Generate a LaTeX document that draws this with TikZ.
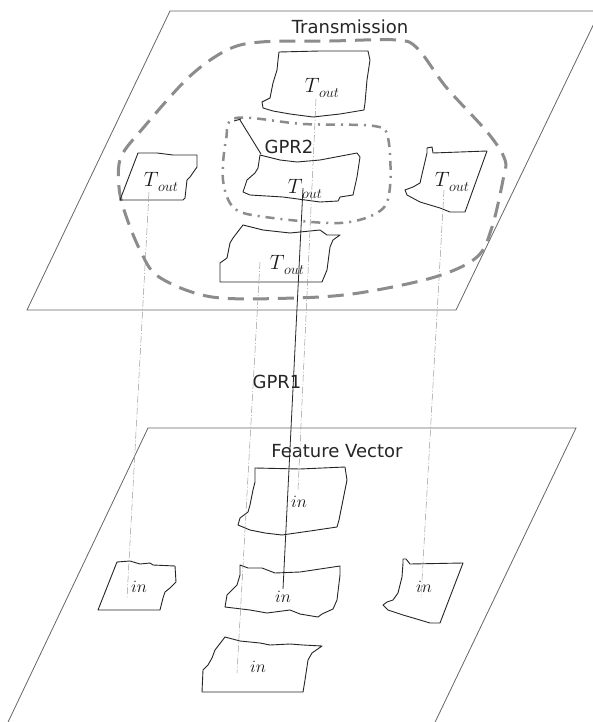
\documentclass[tikz,border=0pt]{standalone}
\usepackage{fontspec}
\setmainfont{DejaVu Sans}
\newcommand{\myTout}{{\fontsize{20}{20}\selectfont$T$\kern-0.5pt\raisebox{-4.5pt}{\fontsize{15}{15}\selectfont$out$}}}
\newcommand{\myIn}{{\fontsize{16}{16}\selectfont$in$}}
\begin{document}
\begin{tikzpicture}[x=1pt,y=-1pt,
  plane/.style={draw=black!60,line width=0.8pt},
  patch/.style={draw=black!85,line width=0.9pt,line join=round},
  outerloop/.style={draw=black!45,line width=3pt,dash pattern=on 16pt off 9pt},
  innerloop/.style={draw=black!45,line width=2.5pt,dash pattern=on 9pt off 6pt on 2pt off 6pt},
  proj/.style={draw=black!40,line width=0.5pt,dash pattern=on 7pt off 2pt on 1pt off 2pt},
  gprline/.style={draw=black!85,line width=0.8pt},
  title/.style={text=black!85,font=\fontsize{18}{18}\selectfont,inner sep=0pt},
  lab/.style={inner sep=0pt,text=black!90}]
\clip (0,0) rectangle (593,722);
\fill[white] (0,0) rectangle (593,722);

% planes
\draw[plane] (27,310) -- (170,11) -- (600,11) -- (456,310) -- cycle;
\draw[plane] (0,739) -- (148,428) -- (576,428) -- (427,739);

% outer dashed loop
\draw[outerloop] plot[smooth cycle,tension=0.55] coordinates {
 (261,42) (330,41) (397,40) (418,49) (446,87) (488,133) (505,160) (503,180)
 (492,227) (477,257) (435,277) (359,293) (295,298) (212,297) (159,277)
 (140,250) (125,213) (119,187) (121,157) (144,127) (189,77) (227,50)};

% inner dash-dot loop
\draw[innerloop] plot[smooth cycle,tension=0.55] coordinates {
 (236,118) (303,124) (374,126) (388,138) (390,187) (380,211) (340,223)
 (265,217) (234,208) (223,180) (226,140)};

% top patches
\draw[patch] (279,52) -- (320,51) -- (368,51) -- (370,60) -- (367,80) -- (365,103) -- (364,110)
  -- (340,114) -- (313,117) -- (290,114) -- (273,111) -- (263,108) -- (262,102) -- (270,98)
  -- (273,83) -- (277,70) -- (278,60) -- cycle;
\draw[patch] (138,153) -- (157,153) -- (173,155) -- (197,155) -- (197,167) -- (190,177)
  -- (187,180) -- (185,198) -- (183,200) -- (157,200) -- (120,200) -- cycle;
\draw[patch] (260,155) -- (280,160) -- (297,162) -- (320,160) -- (357,153) -- (360,157)
  -- (357,177) -- (353,195) -- (340,197) -- (338,201) -- (320,202) -- (283,197) -- (250,195)
  -- (243,192) -- (247,180) -- (255,173) -- (258,168) -- cycle;
\draw[patch] (234,121) -- (241,119);
\draw[patch] (240,120) -- (261,154);
\draw[patch] (427,148) -- (432,147) -- (433,153) -- (487,151) -- (465,212) -- (450,212)
  -- (440,208) -- (420,202) -- (407,195) -- (405,190) -- (413,187) -- (420,183) -- (423,170)
  -- (427,153) -- cycle;
\draw[patch] (243,225) -- (263,230) -- (290,233) -- (300,232) -- (320,230) -- (327,235)
  -- (340,235) -- (333,240) -- (330,247) -- (327,270) -- (322,282) -- (220,282) -- (220,263)
  -- (227,258) -- (230,243) -- (233,238) -- cycle;

% bottom patches
\draw[patch] (255,468) -- (300,469) -- (345,467) -- (347,480) -- (343,500) -- (339,520)
  -- (337,527) -- (310,531) -- (282,535) -- (265,533) -- (250,530) -- (238,525) -- (240,518)
  -- (248,512) -- (250,505) -- (253,490) -- (255,482) -- cycle;
\draw[patch] (240,565) -- (248,568) -- (262,568) -- (275,573) -- (300,572) -- (320,569)
  -- (340,566) -- (340,575) -- (337,600) -- (333,609) -- (322,614) -- (318,617) -- (300,614)
  -- (290,610) -- (267,613) -- (250,610) -- (225,607) -- (227,595) -- (232,590) -- (237,585)
  -- (240,575) -- cycle;
\draw[patch] (225,637) -- (240,641) -- (260,643) -- (270,645) -- (290,644) -- (303,645)
  -- (322,646) -- (312,653) -- (308,660) -- (305,680) -- (303,692) -- (202,692) -- (203,670)
  -- (208,665) -- (212,658) -- (215,650) -- cycle;
\draw[patch] (117,562) -- (130,561) -- (140,564) -- (150,563) -- (153,565) -- (175,566)
  -- (176,582) -- (170,588) -- (165,592) -- (163,598) -- (160,610) -- (98,610) -- cycle;
\draw[patch] (403,559) -- (406,559) -- (410,564) -- (463,563) -- (440,623) -- (430,623)
  -- (420,620) -- (403,615) -- (388,610) -- (383,605) -- (387,602) -- (393,600) -- (398,593)
  -- (402,577) -- (403,563) -- cycle;

% labels
\node[title] (trans) at (350,27) {Transmission};
\node[title] (gpr2) at (289,147) {GPR2};
\node[title] (gpr1) at (277,382) {GPR1};
\node[title] (fv) at (337,451) {Feature Vector};

\node[lab] (tA) at (322,88) {\myTout};
\node[lab] (tB) at (161,182) {\myTout};
\node[lab] (tC) at (305,189) {\myTout};
\node[lab] (tD) at (452,182) {\myTout};
\node[lab] (tE) at (287,265) {\myTout};

\node[lab] (iF) at (299,502) {\myIn};
\node[lab] (iG) at (283,597) {\myIn};
\node[lab] (iH) at (258,667) {\myIn};
\node[lab] (iI) at (139,587) {\myIn};
\node[lab] (iJ) at (424,587) {\myIn};

% projection lines
\coordinate (pA1) at (316,99);   \coordinate (pA2) at (298,490);
\coordinate (pB1) at (149,192);  \coordinate (pB2) at (127,598);
\coordinate (pD1) at (444,190);  \coordinate (pD2) at (421,598);
\coordinate (pE1) at (260,262);  \coordinate (pE2) at (237,673);
\coordinate (pC1) at (303,188);  \coordinate (pC2) at (283,589);
\draw[proj] (pA1) -- (pA2);
\draw[proj] (pB1) -- (pB2);
\draw[proj] (pD1) -- (pD2);
\draw[proj] (pE1) -- (pE2);
\draw[gprline] (pC1) -- (pC2);
\end{tikzpicture}
\end{document}
